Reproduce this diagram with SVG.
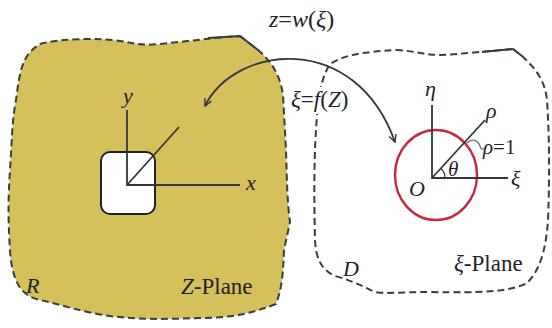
<svg xmlns="http://www.w3.org/2000/svg" width="552" height="328" viewBox="0 0 552 328">
<style>
.bd{fill:none;stroke:#383d42;stroke-width:2;stroke-dasharray:7 4}
.sol{fill:none;stroke:#383d42;stroke-width:2}
.ax{fill:none;stroke:#2f3840;stroke-width:1.8}
.t{font-family:"Liberation Serif",serif;fill:#1f2328}
.i{font-style:italic}
</style>
<defs>
<marker id="ah" viewBox="0 0 10 10" refX="9" refY="5" markerWidth="9" markerHeight="9" orient="auto-start-reverse" markerUnits="userSpaceOnUse">
<path d="M1,1 L9,5 L1,9" fill="none" stroke="#2f3840" stroke-width="1.6"/>
</marker>
</defs>
<rect width="552" height="328" fill="#fff"/>
<g id="regionR">
<path d="M240,36 L258,50 C272,62 280,75 283,95 L286,150 C287,180 287,200 290,222 L284,250 C283,270 283,285 276,304 C250,314 230,318 200,318 C170,319 140,320 110,316 C80,312 60,304 40,300 C20,296 12,280 10,250 C8,220 8,200 10,170 C12,140 12,120 16,100 C20,70 22,55 40,44 C60,38 100,38 120,41 C135,43 140,46 160,44 C190,41 210,38 240,36 Z" fill="#d6c05c" stroke="none"/>
<path class="bd" d="M240,36 L258,50 C272,62 280,75 283,95 L286,150 C287,180 287,200 290,222 L284,250 C283,270 283,285 276,304 C250,314 230,318 200,318 C170,319 140,320 110,316 C80,312 60,304 40,300 C20,296 12,280 10,250 C8,220 8,200 10,170 C12,140 12,120 16,100 C20,70 22,55 40,44 C60,38 100,38 120,41 C135,43 140,46 160,44 C190,41 210,38 240,36"/>
<path class="sol" d="M208,38 L240,36 L258,50"/>
<rect x="101" y="152" width="54" height="62" rx="9" fill="#fff" stroke="#1f2328" stroke-width="2"/>
<path class="ax" d="M127,110 L127,185 L240,185 M127,185 L179,127"/>
<text class="t i" x="123" y="103" font-size="22">y</text>
<text class="t i" x="246" y="190" font-size="22">x</text>
<text class="t i" x="26" y="293" font-size="22">R</text>
<text class="t" x="181" y="294" font-size="23"><tspan class="i">Z</tspan>-Plane</text>
</g>
<g id="regionD">
<path class="bd" d="M513,49 L522,56 C535,68 545,80 547,100 C549,130 550,170 548,220 C546,250 540,270 527,283 C510,292 480,293 430,292 C400,292 385,294 375,292 C360,285 350,280 335,276 C322,270 316,260 315,240 C314,200 314,160 316,130 C318,100 320,80 330,64 C345,55 360,52 397,50 C415,51 425,55 440,55 C460,54 480,52 513,49"/>
<path class="sol" d="M482,52 L513,49 L522,56"/>
<ellipse cx="436" cy="175" rx="41" ry="45" fill="none" stroke="#c8283c" stroke-width="2.4"/>
<path class="ax" d="M432,105 L432,178 L508,178 M432,178 L485,120"/>
<path d="M445,178 A13,13 0 0 0 441,168.5" fill="none" stroke="#2f3840" stroke-width="1.2"/>
<path d="M467,143 C472,138 478,140 480,146 C481,150 484,150 486,147" fill="none" stroke="#6a7780" stroke-width="1.3"/>
<text class="t i" x="425" y="96" font-size="22">η</text>
<text class="t i" x="486" y="118" font-size="22">ρ</text>
<text class="t" x="483" y="154" font-size="21"><tspan class="i">ρ</tspan>=1</text>
<text class="t i" x="448" y="176" font-size="21">θ</text>
<text class="t i" x="511" y="186" font-size="22">ξ</text>
<text class="t i" x="409" y="196" font-size="22">O</text>
<text class="t i" x="343" y="276" font-size="22">D</text>
<text class="t" x="454" y="271" font-size="23"><tspan class="i">ξ</tspan>-Plane</text>
</g>
<g id="connectors">
<path d="M205,106 C235,45 355,30 395,142" fill="none" stroke="#2f3840" stroke-width="1.8" marker-start="url(#ah)" marker-end="url(#ah)"/>
<rect x="291" y="87" width="62" height="27" fill="#fff"/>
<text class="t" x="269" y="27" font-size="24"><tspan class="i">z</tspan>=<tspan class="i">w</tspan>(<tspan class="i">ξ</tspan>)</text>
<text class="t" x="291" y="107" font-size="23"><tspan class="i">ξ</tspan>=<tspan class="i">f</tspan>(<tspan class="i">Z</tspan>)</text>
</g>
</svg>
